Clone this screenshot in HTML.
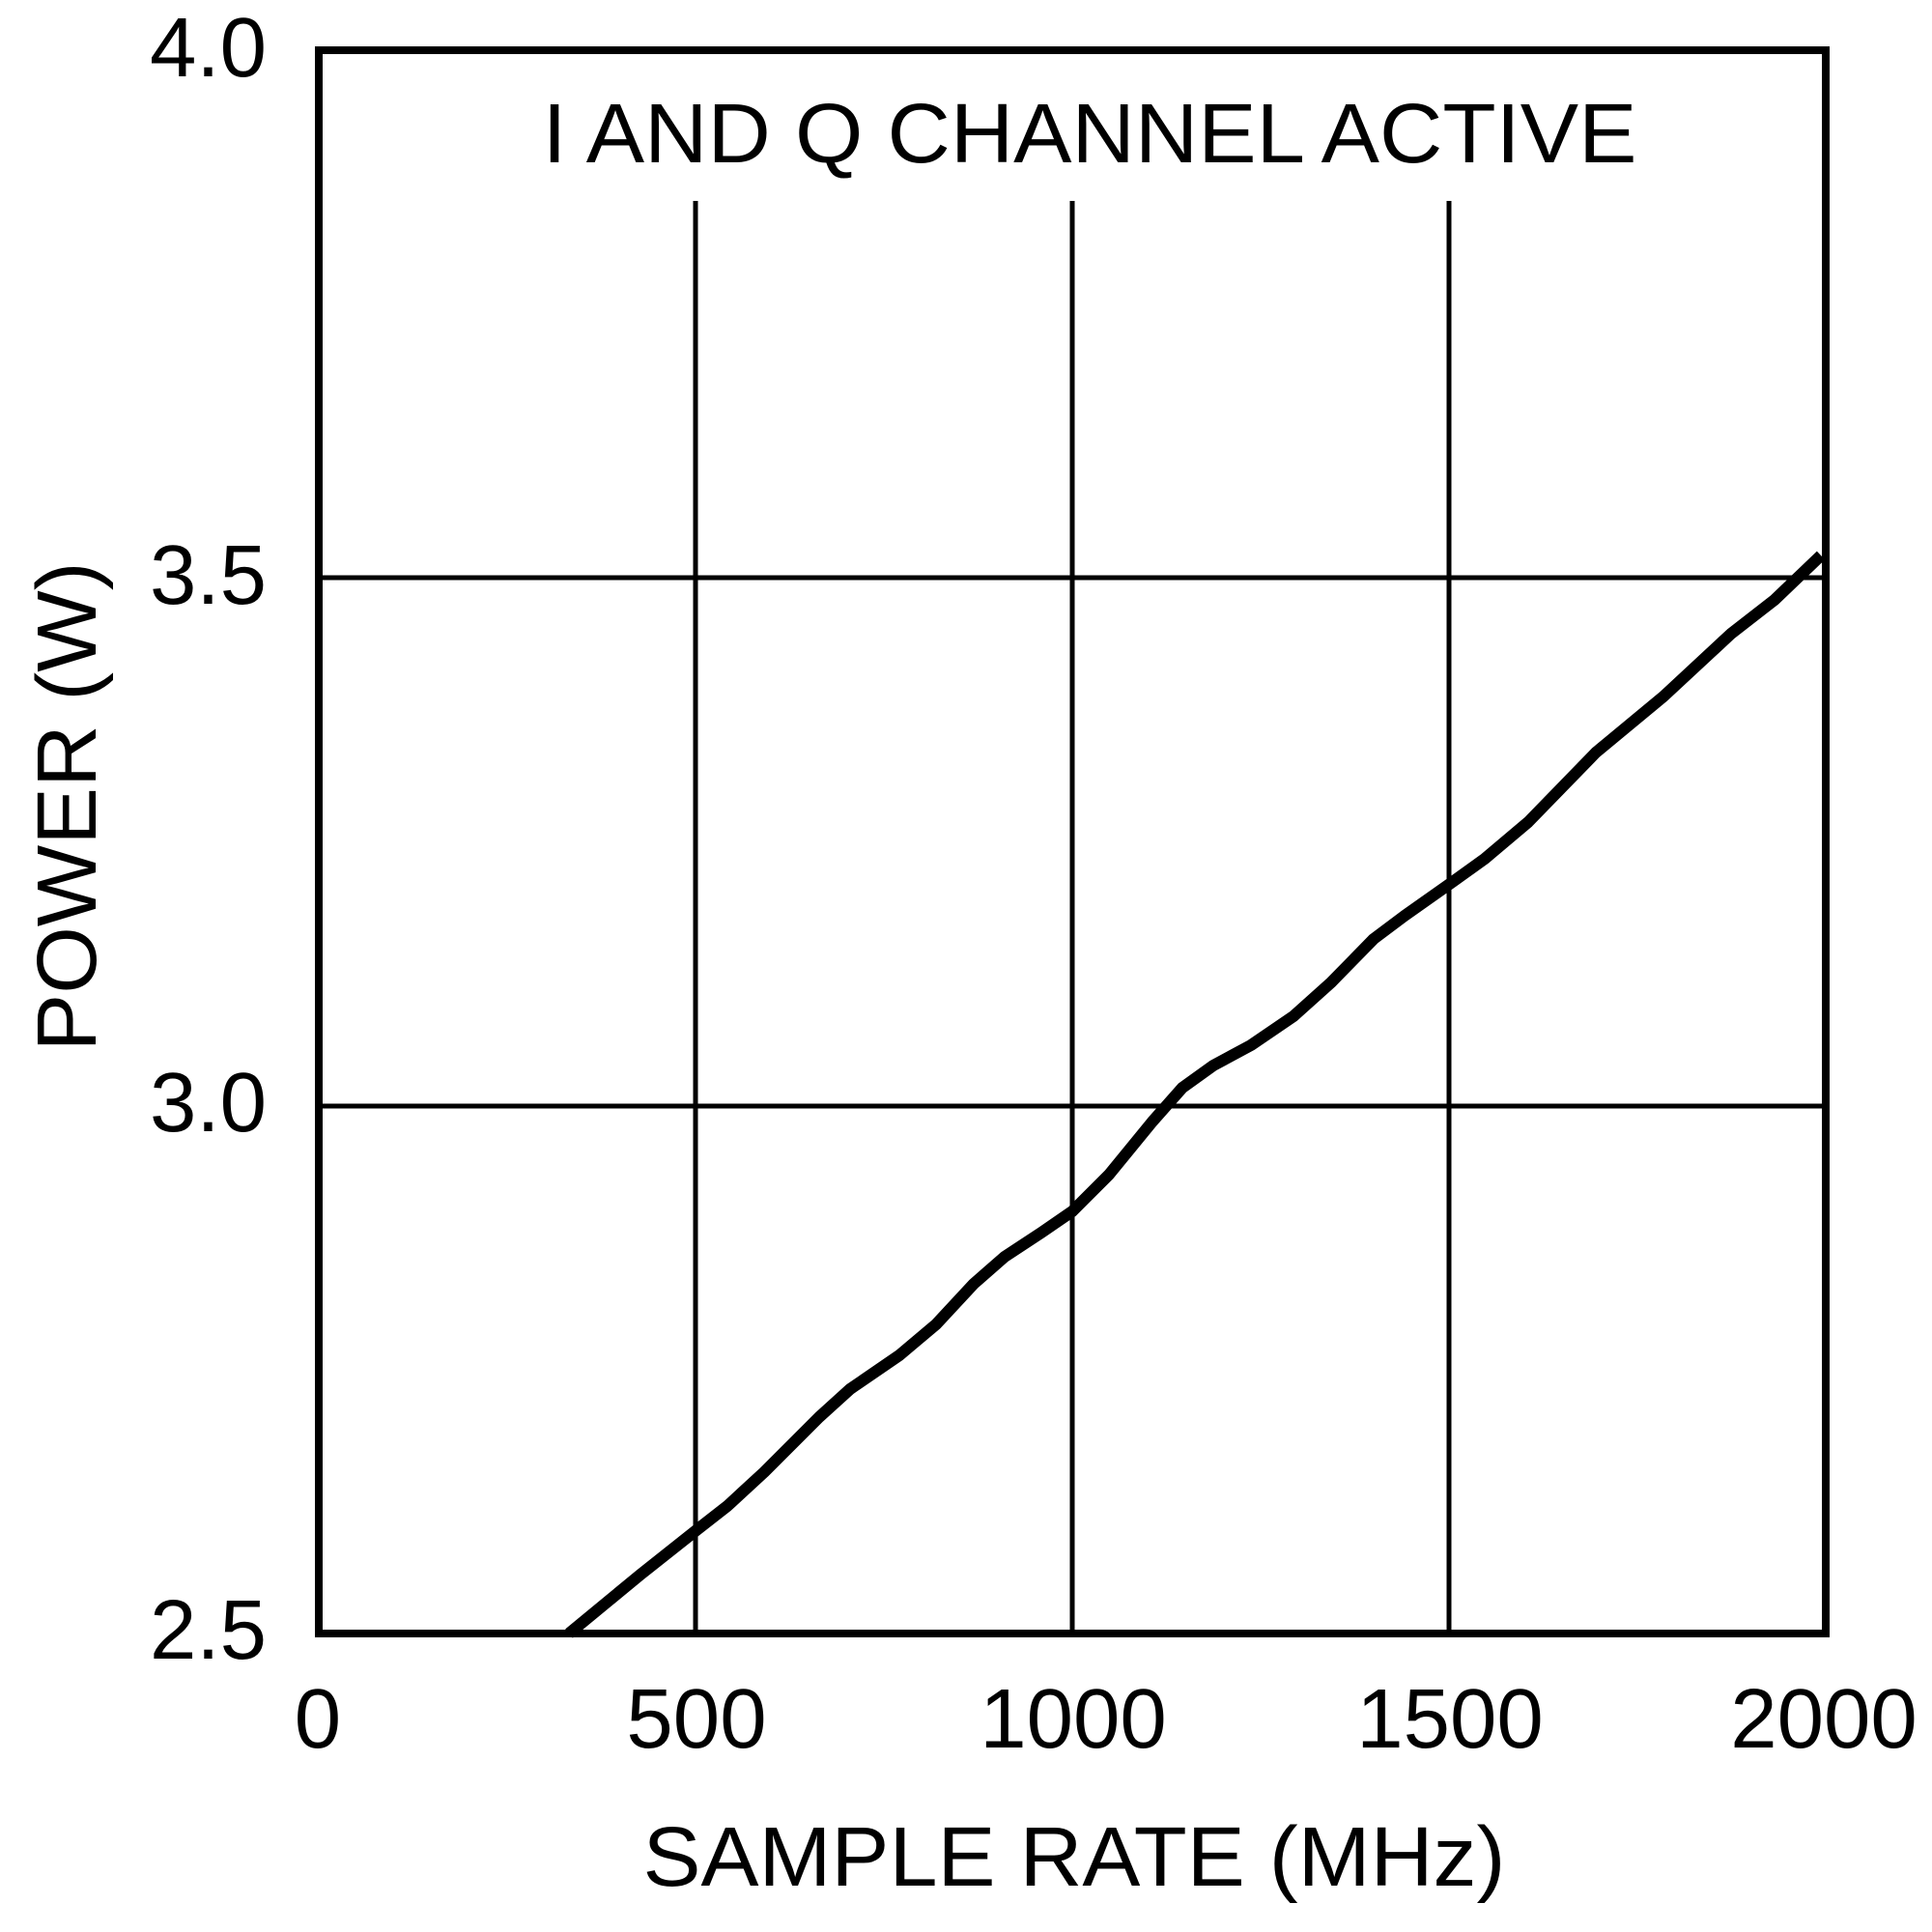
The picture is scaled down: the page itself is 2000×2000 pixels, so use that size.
<!DOCTYPE html>
<html><head><meta charset="utf-8"><style>html,body{margin:0;padding:0;background:#fff}svg{display:block}</style></head>
<body>
<svg width="2000" height="2000" viewBox="0 0 2000 2000" xmlns="http://www.w3.org/2000/svg" font-family="Liberation Sans, Arial, sans-serif" fill="#000">
<g stroke="#000" stroke-width="5">
<line x1="720" y1="208" x2="720" y2="1691"/>
<line x1="1110" y1="208" x2="1110" y2="1691"/>
<line x1="1500" y1="208" x2="1500" y2="1691"/>
<line x1="330" y1="598" x2="1890" y2="598"/>
<line x1="330" y1="1145" x2="1890" y2="1145"/>
</g>
<rect x="330" y="52" width="1560" height="1639" fill="none" stroke="#000" stroke-width="8"/>
<text x="1128" y="168" font-size="87" text-anchor="middle" textLength="1133" lengthAdjust="spacingAndGlyphs">I AND Q CHANNEL ACTIVE</text>
<polyline fill="none" stroke="#000" stroke-width="12" stroke-linejoin="round" points="589,1691 663,1630 721,1584 753,1559 791,1524 848,1467 880,1438 931,1403 969,1371 1008,1329 1040,1301 1078,1276 1110,1254 1148,1216 1193,1161 1224,1126 1256,1103 1295,1082 1339,1052 1378,1017 1422,972 1454,948 1505,912 1537,889 1582,851 1652,779 1722,721 1792,656 1837,621 1885,575"/>
<g font-size="87" text-anchor="end">
<text x="276" y="79">4.0</text>
<text x="276" y="625">3.5</text>
<text x="276" y="1171">3.0</text>
<text x="276" y="1717">2.5</text>
</g>
<g font-size="87" text-anchor="middle">
<text x="329" y="1809">0</text>
<text x="721" y="1809">500</text>
<text x="1111" y="1809">1000</text>
<text x="1501" y="1809">1500</text>
<text x="1888" y="1809">2000</text>
<text x="1112" y="1952" textLength="893" lengthAdjust="spacingAndGlyphs">SAMPLE RATE (MHz)</text>
<text transform="translate(99,835) rotate(-90)" textLength="507" lengthAdjust="spacingAndGlyphs">POWER (W)</text>
</g>
</svg>
</body></html>
